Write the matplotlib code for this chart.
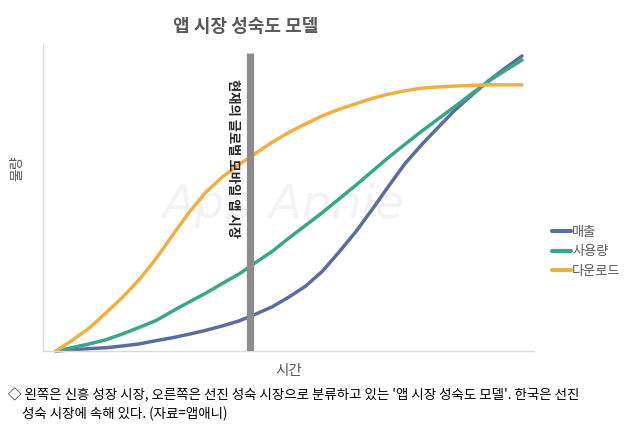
import matplotlib
matplotlib.use("Agg")
import matplotlib.pyplot as plt

plt.rcParams['font.family'] = ['Noto Sans CJK KR', 'DejaVu Sans']

# time steps (no ticks on the chart, just evenly spaced samples)
t = list(range(29))

# values, 0-100 scale
sales = [0, 0.4, 0.8, 1.1, 1.7, 2.4, 3.5, 4.5, 5.7, 7.0, 8.5, 10.2, 12.5, 15.0,
         18.3, 22.0, 27.0, 33.5, 40.3, 48.0, 56.0, 63.7, 70.1, 76.0, 81.8,
         86.8, 91.6, 95.9, 100]
usage = [0, 1.2, 2.4, 3.8, 5.8, 8.0, 10.3, 13.5, 16.6, 19.6, 22.9, 26.1, 30.0,
         33.8, 38.3, 42.6, 46.9, 51.5, 56.1, 60.9, 65.7, 70.2, 74.6, 78.8, 83.0,
         87.3, 91.5, 95.1, 98.6]
downloads = [0, 3.7, 7.8, 12.9, 18.2, 24.2, 31.2, 39.2, 47.0, 53.8, 59.0, 63.2,
             67.0, 70.8, 74.1, 77.0, 79.7, 81.9, 83.8, 85.6, 87.1, 88.2, 89.1,
             89.5, 89.8, 90.0, 90.2, 90.2, 90.2]

series_names = ['매출', '사용량', '다운로드']
series_colors = ['#5a6e9c', '#3aa689', '#f0b040']

current_t = 11.66
current_label = '현재의 글로벌 모바일 앱 시장'

title = '앱 시장 성숙도 모델'
caption1 = "◇ 왼쪽은 신흥 성장 시장, 오른쪽은 선진 성숙 시장으로 분류하고 있는 '앱 시장 성숙도 모델'. 한국은 선진"
caption2 = "성숙 시장에 속해 있다. (자료=앱애니)"

fig = plt.figure(figsize=(6.26, 4.25), dpi=100)
ax = fig.add_axes([43 / 626, 74 / 425, 491 / 626, 306 / 425])

# faint watermark behind the curves
ax.text(284 / 626, 1 - 205 / 425, 'App Annie', transform=fig.transFigure,
        fontsize=34, style='italic', color='#f3f3f3', ha='center',
        va='center', family='DejaVu Sans', zorder=0.5)

for vals, name, col in zip([sales, usage, downloads], series_names, series_colors):
    ax.plot(t, vals, color=col, lw=2.5, label=name, clip_on=False,
            solid_capstyle='round', solid_joinstyle='round', zorder=2)

ax.vlines(current_t, 0, 101, color='#8c8c8c', lw=5.2, zorder=3)
ax.text(current_t - 1.0, 65.4, current_label, rotation=-90, fontsize=9.6,
        fontweight='bold', ha='center', va='center', color='#262626', zorder=4)

ax.set_xlim(-0.78, 28.72)
ax.set_ylim(0, 103.7)
ax.set_xticks([])
ax.set_yticks([])
for side in ['top', 'right']:
    ax.spines[side].set_visible(False)
for side in ['left', 'bottom']:
    ax.spines[side].set_color('#d9d9d9')
    ax.spines[side].set_linewidth(1)

ax.set_xlabel('시간', fontsize=10.5, color='#595959', labelpad=9)
fig.text(17 / 626, 1 - 168 / 425, '물량', rotation=90, fontsize=10,
         color='#595959', ha='center', va='center')

fig.text(246 / 626, 1 - 27 / 425, title, fontsize=13, fontweight='bold',
         color='#595959', ha='center', va='center')

leg = ax.legend(loc='center left', bbox_to_anchor=(545 / 626, 1 - 252 / 425),
                bbox_transform=fig.transFigure, frameon=False, fontsize=9.5,
                handlelength=1.5, handletextpad=0.05, labelspacing=0.5,
                borderpad=0)
for txt in leg.get_texts():
    txt.set_color('#595959')
for line in leg.get_lines():
    line.set_linewidth(3)

fig.text(8 / 626, 1 - 395 / 425, caption1, fontsize=9.7, color='#000000',
         ha='left', va='center')
fig.text(22 / 626, 1 - 414 / 425, caption2, fontsize=9.7, color='#000000',
         ha='left', va='center')

fig.savefig('out.png', dpi=100)
